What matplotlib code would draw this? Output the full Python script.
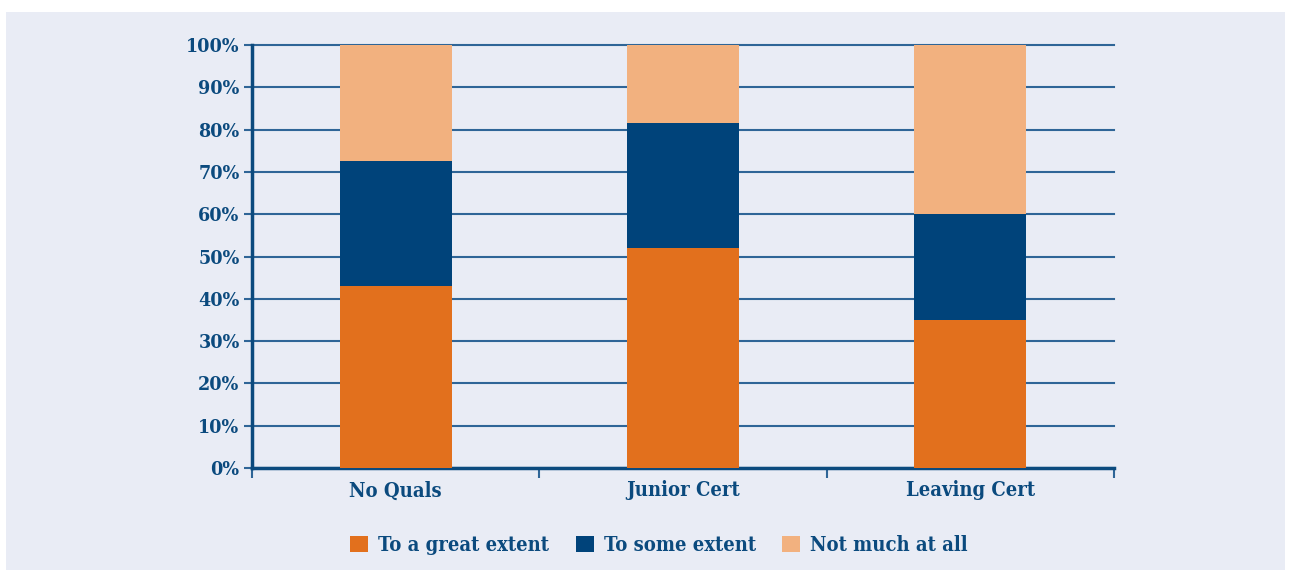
import matplotlib
matplotlib.use("Agg")
import matplotlib.pyplot as plt
from matplotlib.patches import Rectangle, Patch
import numpy as np

categories = ["No Quals", "Junior Cert", "Leaving Cert"]
series_names = ["To a great extent", "To some extent", "Not much at all"]
great = [43, 52, 35]
some = [29.5, 29.5, 25]
notmuch = [27.5, 18.5, 40]
yticks = [0, 10, 20, 30, 40, 50, 60, 70, 80, 90, 100]

colors = ["#E2701D", "#00437A", "#F2B17F"]
txt = "#0B4A7E"
grid = "#2F6597"
bg = "#E9ECF5"

plt.rcParams['font.family'] = ['DejaVu Serif']
plt.rcParams['font.weight'] = 'bold'
plt.rcParams['font.stretch'] = 'condensed'

fig = plt.figure(figsize=(12.9, 5.7), dpi=100, facecolor="white")
fig.patches.append(Rectangle((6/1290, 0), 1279/1290, 558/570, transform=fig.transFigure,
                             facecolor=bg, edgecolor="none", zorder=-10))

ax = fig.add_axes([252/1290, 1-468/570, 862/1290, 423/570])
ax.set_facecolor("none")
x = np.arange(len(categories))
w = 0.39
bottoms = np.zeros(len(categories))
for vals, c, name in zip([great, some, notmuch], colors, series_names):
    ax.bar(x, vals, w, bottom=bottoms, color=c, label=name, zorder=3)
    bottoms += np.array(vals)

ax.set_xlim(-0.5, 2.5)
ax.set_ylim(0, 100)
ax.set_yticks(yticks)
ax.set_yticklabels([f"{v}%" for v in yticks])
ax.yaxis.grid(True, color=grid, linewidth=1.5, zorder=1)
for gl in ax.get_ygridlines():
    gl.set_clip_on(False)
ax.set_axisbelow(True)
ax.set_xticks([-0.5, 0.5, 1.5, 2.5], minor=False)
ax.set_xticklabels(["", "", "", ""])
ax.set_xticks(x, minor=True)
ax.set_xticklabels(categories, minor=True)
ax.tick_params(axis='x', which='minor', length=0, pad=9, labelsize=14.5, labelcolor=txt)
ax.tick_params(axis='x', which='major', length=7, width=1.5, color=grid, direction='out')
ax.tick_params(axis='y', length=6, width=1.5, color=grid, labelsize=14, labelcolor=txt, pad=3)
for s in ["top", "right"]:
    ax.spines[s].set_visible(False)
ax.spines["left"].set_color(txt)
ax.spines["left"].set_linewidth(2.5)
ax.spines["bottom"].set_color(txt)
ax.spines["bottom"].set_linewidth(2.5)

handles = [Patch(facecolor=c, edgecolor="none") for c in colors]
fig.legend(handles, series_names, loc="center", bbox_to_anchor=(659/1290, 1-545/570),
           ncol=3, frameon=False, fontsize=14.5, labelcolor=txt, handlelength=0.9,
           handleheight=0.9, handletextpad=0.5, columnspacing=1.3)

fig.savefig("out.png", dpi=100, facecolor="white")
